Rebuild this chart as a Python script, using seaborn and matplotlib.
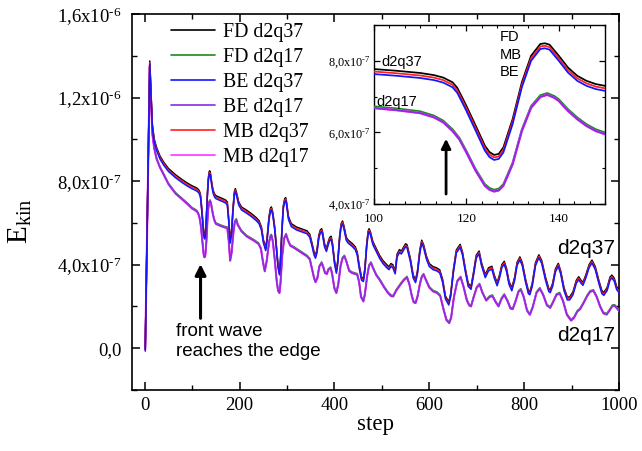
import numpy as np
import pandas as pd
import matplotlib
matplotlib.use("Agg")
import matplotlib.pyplot as plt
import seaborn as sns
from matplotlib.ticker import MultipleLocator, AutoMinorLocator, FuncFormatter

# ---------------- data (E_kin in units of 1e-7) ----------------
step_d2q37 = [1, 10.5, 13, 16, 20, 25, 32, 40, 50, 65, 80, 90,
              100, 105, 110, 113, 115, 117, 118, 119, 120, 122, 124, 125, 126, 127, 128,
              130, 132, 134, 136, 137, 138, 140, 142, 144, 146, 148, 150,
              160, 170, 174, 177, 180, 183, 186, 189, 191, 194, 198, 204, 215, 225, 235,
              241, 246, 250, 255, 258, 262, 265, 267, 270, 274, 278, 281, 284, 286, 289,
              292, 295, 297, 299, 303, 309, 320, 330, 342, 348, 353, 357, 360, 363, 367,
              370, 373, 375, 379, 383, 387, 390, 393, 396, 400, 404, 407, 411, 414, 417,
              420, 425, 429, 438, 444, 448, 452, 457, 461, 464, 468, 471, 473, 476, 481,
              488, 495, 502, 510, 515, 519, 523, 528, 532, 537, 541, 546, 550, 553, 560,
              566, 571, 575, 580, 584, 588, 594, 600, 608, 615, 622, 628, 634, 641, 645,
              651, 657, 665, 670, 676, 682, 688, 693, 699, 705, 710, 718, 725, 732, 737,
              743, 748, 753, 758, 763, 768, 774, 780, 785, 791, 796, 803, 809, 812, 817,
              824, 831, 837, 845, 852, 855, 860, 866, 872, 877, 884, 891, 896, 903, 910,
              915, 920, 924, 930, 937, 943, 950, 958, 964, 968, 975, 981, 985, 990, 995, 1000]
ekin_fd_d2q37 = [0.0, 13.75, 12.3, 10.7, 10.0, 9.6, 9.2, 8.9, 8.6, 8.3, 8.05, 7.9,
                 7.77, 7.72, 7.66, 7.6, 7.53, 7.4, 7.25, 7.0, 6.74, 6.19, 5.63, 5.45, 5.37, 5.4, 5.58,
                 6.37, 7.4, 8.14, 8.47, 8.49, 8.45, 8.14, 7.81, 7.58, 7.44, 7.35, 7.3,
                 7.2, 7.1, 7.0, 6.2, 5.17, 5.6, 6.7, 7.5, 7.64, 7.4, 7.0, 6.76, 6.6, 6.44, 6.25,
                 6.1, 5.8, 5.2, 4.81, 5.3, 6.3, 6.7, 6.76, 6.5, 5.8, 4.8, 4.0, 3.65, 4.2, 5.6,
                 6.8, 7.15, 7.21, 7.0, 6.3, 5.96, 5.8, 5.72, 5.62, 5.45, 5.0, 4.6, 4.45, 4.7, 5.4,
                 5.65, 5.72, 5.55, 5.0, 4.77, 5.1, 5.3, 5.36, 5.0, 4.2, 3.73, 4.2, 5.4, 5.95, 6.09,
                 5.85, 5.3, 5.17, 5.0, 4.85, 4.6, 4.0, 3.4, 3.33, 3.8, 5.0, 5.6, 5.72, 5.55, 5.1,
                 4.77, 4.45, 4.2, 4.0, 3.9, 4.05, 4.0, 3.7, 4.5, 4.72, 4.65, 4.85, 5.0, 4.95, 4.3,
                 3.5, 3.28, 3.7, 4.7, 5.17, 4.95, 4.4, 4.05, 3.9, 3.85, 3.75, 3.3, 2.5, 2.21, 2.6,
                 3.8, 4.7, 4.97, 4.6, 3.8, 3.1, 2.96, 3.6, 4.45, 4.65, 4.1, 3.52, 3.85, 3.92, 3.5,
                 3.13, 3.5, 4.0, 4.16, 3.8, 3.2, 2.89, 3.4, 4.1, 4.37, 4.1, 3.3, 2.75, 2.7, 3.1,
                 4.1, 4.47, 4.2, 3.4, 2.85, 2.8, 3.1, 3.8, 4.06, 3.7, 2.9, 2.45, 2.45, 2.7, 3.25,
                 3.42, 3.25, 3.15, 3.5, 4.0, 4.22, 3.9, 3.2, 2.75, 2.67, 2.9, 3.4, 3.5, 3.35, 2.95, 2.8]

step_d2q17 = [1, 10.5, 13, 16, 20, 25, 32, 40, 50, 65, 80, 90,
              100, 105, 110, 113, 115, 117, 118.5, 120, 122, 124, 125, 126, 127, 128,
              130, 132, 134, 136, 137.5, 139, 140, 142, 144, 146, 148, 150,
              160, 170, 174, 177, 180, 183, 187, 190, 193, 196, 204, 215, 230, 240, 245,
              249, 253, 257, 262, 265, 267, 270, 274, 278, 281, 284, 286, 290, 294, 298,
              302, 307, 313, 325, 335, 342, 348, 353, 357, 360, 364, 368, 373, 376, 380,
              384, 387, 392, 395, 400, 404, 408, 413, 417, 421, 425, 431, 437, 448, 452,
              456, 461, 464, 469, 473, 477, 481, 488, 495, 505, 513, 519, 524, 530, 539,
              546, 553, 558, 563, 567, 571, 575, 580, 584, 588, 593, 600, 608, 616, 623,
              630, 636, 642, 646, 652, 659, 666, 672, 679, 684, 688, 693, 700, 706, 712,
              720, 727, 733, 740, 746, 752, 758, 765, 771, 776, 782, 788, 793, 799, 806,
              812, 818, 826, 833, 840, 848, 855, 861, 868, 875, 882, 890, 899, 905, 912,
              918, 925, 933, 939, 946, 953, 960, 967, 974, 980, 986, 991, 996, 1000]
ekin_fd_d2q17 = [0.0, 13.55, 12.0, 10.3, 9.6, 9.1, 8.7, 8.35, 7.9, 7.45, 7.15, 6.95,
                 6.73, 6.67, 6.59, 6.47, 6.33, 6.09, 5.85, 5.49, 4.98, 4.56, 4.45, 4.40, 4.43, 4.56,
                 5.16, 6.09, 6.74, 7.04, 7.10, 7.02, 6.93, 6.65, 6.42, 6.23, 6.09, 6.0,
                 5.9, 5.82, 5.8, 5.2, 4.24, 4.6, 5.6, 6.1, 6.2, 5.95, 5.64, 5.4, 5.2, 5.04, 4.8,
                 4.2, 3.73, 4.2, 5.1, 5.4, 5.45, 5.15, 4.3, 3.3, 2.8, 2.69, 3.1, 4.5, 5.3, 5.49,
                 5.2, 4.95, 4.88, 4.7, 4.55, 4.45, 4.3, 3.8, 3.4, 3.21, 3.4, 3.95, 4.13, 3.95, 3.65,
                 3.6, 3.8, 3.89, 3.6, 2.9, 2.69, 3.1, 4.0, 4.35, 4.45, 4.2, 3.75, 3.65, 3.57, 3.2,
                 2.5, 2.29, 2.6, 3.5, 4.0, 4.13, 3.9, 3.55, 3.33, 2.95, 2.69, 2.55, 2.53, 2.8, 3.09,
                 3.3, 3.44, 3.1, 2.55, 2.25, 2.21, 2.5, 3.1, 3.45, 3.57, 3.3, 2.95, 2.77, 2.7, 2.55,
                 1.9, 1.4, 1.25, 1.5, 2.5, 3.25, 3.44, 3.0, 2.35, 2.1, 2.05, 2.45, 2.95, 3.1, 2.7,
                 2.33, 2.5, 2.55, 2.25, 2.05, 2.4, 2.6, 2.3, 1.95, 1.92, 2.3, 2.75, 2.85, 2.5, 1.85,
                 1.65, 2.0, 2.7, 2.9, 2.6, 2.1, 1.98, 2.25, 2.6, 2.67, 2.3, 1.65, 1.37, 1.5, 1.8,
                 1.92, 2.2, 2.55, 2.75, 2.8, 2.5, 2.05, 1.72, 1.66, 1.85, 2.07, 2.08, 1.95, 1.84]

# small offsets of the MB / BE curves relative to FD
mb_offset_d2q37 = -0.07
be_offset_d2q37 = -0.14
mb_offset_d2q17 = -0.05
be_offset_d2q17 = -0.05

series_labels = ["FD d2q37", "FD d2q17", "BE d2q37", "BE d2q17", "MB d2q37", "MB d2q17"]
series_colors = ["#000000", "#1a8a1a", "#1414ff", "#8a2be2", "#ff2020", "#ff33ff"]

UNIT = 1e-7
s37 = np.array(step_d2q37)
s17 = np.array(step_d2q17)
fd37 = np.array(ekin_fd_d2q37) * UNIT
fd17 = np.array(ekin_fd_d2q17) * UNIT
series = {
    "FD d2q37": (s37, fd37),
    "FD d2q17": (s17, fd17),
    "BE d2q37": (s37, fd37 + be_offset_d2q37 * UNIT),
    "BE d2q17": (s17, fd17 + be_offset_d2q17 * UNIT),
    "MB d2q37": (s37, fd37 + mb_offset_d2q37 * UNIT),
    "MB d2q17": (s17, fd17 + mb_offset_d2q17 * UNIT),
}
zorders = {"FD d2q37": 5, "FD d2q17": 3, "BE d2q37": 6, "BE d2q17": 5,
           "MB d2q37": 5.5, "MB d2q17": 4}
widths = {"FD d2q37": 1.1, "FD d2q17": 1.1, "BE d2q37": 1.1, "BE d2q17": 1.1,
          "MB d2q37": 1.1, "MB d2q17": 1.5}

# ---------------- styling ----------------
sns.set_theme(style="white")
plt.rcParams["font.family"] = ["Liberation Serif", "DejaVu Serif"]
plt.rcParams["mathtext.fontset"] = "custom"
plt.rcParams["mathtext.rm"] = "Liberation Serif"
plt.rcParams["mathtext.it"] = "Liberation Serif:italic"
plt.rcParams["mathtext.default"] = "regular"
plt.rcParams["text.color"] = "black"
plt.rcParams["axes.labelcolor"] = "black"
plt.rcParams["xtick.color"] = "black"
plt.rcParams["ytick.color"] = "black"
SANS = ["Liberation Sans", "DejaVu Sans"]


def sci_fmt(v, pos):
    if abs(v) < 1e-15:
        return "0,0"
    e = int(np.floor(np.log10(abs(v)) + 1e-9))
    m = v / 10.0 ** e
    return ("%.1f" % m).replace(".", ",") + r"x10$^{\text{-}%d}$" % abs(e)


W, H = 642, 451
fig = plt.figure(figsize=(W / 100, H / 100), dpi=100)
ax = fig.add_axes([131.5 / W, 1 - 390 / H, 487.5 / W, 376 / H])

for lab, col in zip(series_labels, series_colors):
    x, y = series[lab]
    sns.lineplot(x=x, y=y, ax=ax, color=col, lw=widths[lab], label=lab,
                 estimator=None, sort=False, zorder=zorders[lab])

ax.set_xlim(-28, 1000)
ax.set_ylim(-2e-7, 1.6e-6)
ax.xaxis.set_major_locator(MultipleLocator(200))
ax.xaxis.set_minor_locator(AutoMinorLocator(2))
ax.yaxis.set_major_locator(MultipleLocator(4e-7))
ax.yaxis.set_minor_locator(AutoMinorLocator(2))
ax.yaxis.set_major_formatter(FuncFormatter(sci_fmt))
ax.tick_params(which="both", direction="in", bottom=True, left=True, top=True, right=True,
               colors="black")
ax.tick_params(which="major", length=6, width=1.1, labelsize=13.5)
ax.tick_params(which="minor", length=3.5, width=1.0)
ax.tick_params(axis="x", which="major", pad=5)
ax.tick_params(axis="y", which="major", pad=7)
for sp in ax.spines.values():
    sp.set_color("black")
    sp.set_linewidth(1.2)

ax.set_xlabel("step", fontsize=16.5, labelpad=0)
ax.set_ylabel("$E_{kin}$", fontsize=21)
ax.yaxis.set_label_coords(-0.2, 0.45)

handles, labels = ax.get_legend_handles_labels()
leg = ax.legend(handles, labels, loc="upper left", bbox_to_anchor=(0.082, 0.975),
                frameon=False, fontsize=14.3, handlelength=2.2, handletextpad=0.4,
                labelspacing=0.3, borderpad=0, borderaxespad=0)
for h in leg.get_lines():
    h.set_linewidth(1.2)

# annotations
ax.annotate("", xy=(117.6, 4.16e-7), xytext=(117.6, 1.3e-7),
            arrowprops=dict(arrowstyle="-|>", color="black", lw=2.2, mutation_scale=16))
ax.text(65, 1.2e-7, "front wave\nreaches the edge", ha="left", va="top",
        fontsize=13.5, family=SANS, linespacing=1.25)
ax.text(930, 4.76e-7, "d2q37", ha="center", va="center", fontsize=15, family=SANS)
ax.text(930, 0.62e-7, "d2q17", ha="center", va="center", fontsize=15, family=SANS)

# ---------------- inset ----------------
axi = fig.add_axes([374 / W, 1 - 204 / H, 231 / W, 179 / H])
axi.set_facecolor("white")
for lab, col in zip(series_labels, series_colors):
    x, y = series[lab]
    sns.lineplot(x=x, y=y, ax=axi, color=col, lw=widths[lab] * 1.15, legend=False,
                 estimator=None, sort=False, zorder=zorders[lab])
axi.set_xlim(100, 150)
axi.set_ylim(4e-7, 9e-7)
axi.set_xlabel("")
axi.set_ylabel("")
axi.xaxis.set_major_locator(MultipleLocator(20))
axi.xaxis.set_minor_locator(AutoMinorLocator(6))
axi.yaxis.set_major_locator(MultipleLocator(2e-7))
axi.yaxis.set_minor_locator(AutoMinorLocator(2))
axi.yaxis.set_major_formatter(FuncFormatter(sci_fmt))
axi.tick_params(which="both", direction="in", bottom=True, left=True, top=True, right=True,
                colors="black")
axi.tick_params(which="major", length=4, width=0.9, labelsize=9.5)
axi.tick_params(which="minor", length=2.2, width=0.8)
axi.tick_params(axis="y", which="major", pad=2.5, labelsize=8.8)
axi.tick_params(axis="x", which="major", pad=6.5)
for sp in axi.spines.values():
    sp.set_color("black")
    sp.set_linewidth(1.0)

axi.annotate("", xy=(115.6, 5.9e-7), xytext=(115.6, 4.2e-7),
             arrowprops=dict(arrowstyle="-|>", color="black", lw=2.0, mutation_scale=14))
axi.text(101.6, 7.96e-7, "d2q37", ha="left", va="center", fontsize=10.5, family=SANS)
axi.text(100.5, 6.85e-7, "d2q17", ha="left", va="center", fontsize=10.5, family=SANS)
axi.text(127.3, 8.67e-7, "FD", ha="left", va="center", fontsize=10.5, family=SANS)
axi.text(127.3, 8.16e-7, "MB", ha="left", va="center", fontsize=10.5, family=SANS)
axi.text(127.3, 7.70e-7, "BE", ha="left", va="center", fontsize=10.5, family=SANS)

fig.savefig("out.png", dpi=100)
